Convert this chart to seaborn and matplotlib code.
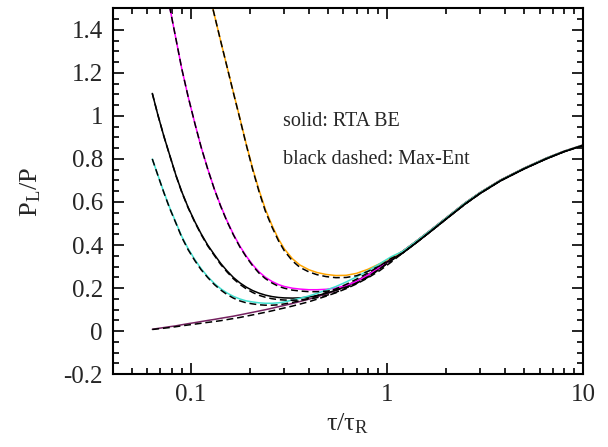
"""P_L/P versus tau/tau_R: RTA BE solutions against Max-Ent closures."""

import matplotlib

matplotlib.use("Agg")

import matplotlib.pyplot as plt
import seaborn as sns
from matplotlib.ticker import FuncFormatter, LogLocator, MultipleLocator


# values
TAU = [0.0637, 0.068, 0.073, 0.078, 0.084, 0.09, 0.097, 0.105, 0.113, 0.122,
       0.132, 0.142, 0.153, 0.165, 0.178, 0.192, 0.207, 0.223, 0.24, 0.26,
       0.28, 0.30, 0.33, 0.36, 0.40, 0.44, 0.49, 0.55, 0.62, 0.70,
       0.80, 0.92, 1.05, 1.2, 1.4, 1.65, 2.0, 2.5, 3.0, 3.8,
       5.0, 6.5, 8.0, 10.0]

# all runs sit on one curve above tau/tau_R ~ 1.2
PL_TAIL_RTA = [0.37, 0.415, 0.465, 0.525, 0.595, 0.645, 0.702, 0.757, 0.804, 0.836, 0.865]
PL_TAIL_ME = [0.362, 0.408, 0.459, 0.52, 0.59, 0.641, 0.699, 0.754, 0.801, 0.834, 0.863]

# orange starts at TAU[9], magenta at TAU[3] (earlier values are off the top)
PL_ORANGE_RTA = [1.60, 1.47, 1.35, 1.23, 1.11, 0.99, 0.868, 0.755, 0.655, 0.567,
                 0.49, 0.428, 0.382, 0.336, 0.307, 0.285, 0.272, 0.263, 0.258, 0.259,
                 0.268, 0.287, 0.313, 0.34]
PL_ORANGE_ME = [1.60, 1.47, 1.35, 1.23, 1.108, 0.988, 0.865, 0.75, 0.648, 0.558,
                0.482, 0.42, 0.373, 0.326, 0.296, 0.275, 0.262, 0.253, 0.248, 0.249,
                0.257, 0.277, 0.303, 0.332]

PL_MAGENTA_RTA = [1.51, 1.36, 1.22, 1.09, 0.965, 0.855, 0.755, 0.66, 0.583, 0.513,
                  0.45, 0.395, 0.348, 0.308, 0.275, 0.25, 0.23, 0.216, 0.207, 0.199,
                  0.195, 0.192, 0.192, 0.194, 0.2, 0.212, 0.231, 0.26, 0.298, 0.335]
PL_MAGENTA_ME = [1.51, 1.36, 1.22, 1.09, 0.965, 0.855, 0.754, 0.659, 0.581, 0.51,
                 0.447, 0.391, 0.344, 0.303, 0.269, 0.244, 0.223, 0.208, 0.199, 0.19,
                 0.186, 0.183, 0.183, 0.185, 0.191, 0.203, 0.222, 0.25, 0.288, 0.328]

PL_BLACK_RTA = [1.105, 1.005, 0.905, 0.82, 0.725, 0.648, 0.575, 0.508, 0.452, 0.4,
                0.355, 0.315, 0.28, 0.249, 0.224, 0.204, 0.188, 0.176, 0.167, 0.16,
                0.156, 0.154, 0.153, 0.154, 0.158, 0.165, 0.175, 0.19, 0.21, 0.233,
                0.262, 0.298, 0.335]
PL_BLACK_ME = [1.105, 1.005, 0.905, 0.819, 0.724, 0.646, 0.573, 0.505, 0.449, 0.396,
               0.351, 0.31, 0.275, 0.243, 0.217, 0.196, 0.179, 0.166, 0.157, 0.15,
               0.146, 0.144, 0.143, 0.144, 0.148, 0.155, 0.165, 0.18, 0.2, 0.223,
               0.252, 0.289, 0.327]

PL_CYAN_RTA = [0.80, 0.725, 0.645, 0.575, 0.505, 0.44, 0.383, 0.332, 0.29, 0.253,
               0.221, 0.197, 0.177, 0.161, 0.149, 0.14, 0.135, 0.131, 0.129, 0.129,
               0.131, 0.135, 0.144, 0.152, 0.163, 0.175, 0.19, 0.207, 0.228, 0.252,
               0.28, 0.313, 0.345]
PL_CYAN_ME = [0.80, 0.724, 0.643, 0.572, 0.502, 0.436, 0.378, 0.327, 0.285, 0.249,
              0.216, 0.191, 0.17, 0.153, 0.14, 0.131, 0.126, 0.122, 0.12, 0.12,
              0.122, 0.126, 0.133, 0.141, 0.152, 0.164, 0.179, 0.196, 0.217, 0.241,
              0.27, 0.303, 0.337]

PL_BOTTOM_RTA = [0.008, 0.012, 0.016, 0.02, 0.024, 0.029, 0.034, 0.039, 0.044, 0.049,
                 0.054, 0.059, 0.064, 0.069, 0.075, 0.081, 0.087, 0.093, 0.099, 0.106,
                 0.113, 0.119, 0.128, 0.137, 0.148, 0.159, 0.172, 0.188, 0.207, 0.229,
                 0.256, 0.29, 0.332]
PL_BOTTOM_ME = [0.007, 0.01, 0.013, 0.016, 0.02, 0.024, 0.028, 0.032, 0.036, 0.04,
                0.044, 0.048, 0.053, 0.058, 0.063, 0.069, 0.075, 0.081, 0.087, 0.094,
                0.101, 0.107, 0.116, 0.125, 0.136, 0.148, 0.162, 0.178, 0.197, 0.219,
                0.247, 0.281, 0.32]

# (colour, first TAU index, RTA values, Max-Ent values); cyan drawn last, on top
CURVES = [
    ("#74205f", 0, PL_BOTTOM_RTA, PL_BOTTOM_ME),
    ("black", 0, PL_BLACK_RTA, PL_BLACK_ME),
    ("#ff00ff", 3, PL_MAGENTA_RTA, PL_MAGENTA_ME),
    ("orange", 9, PL_ORANGE_RTA, PL_ORANGE_ME),
    ("#40e0d0", 0, PL_CYAN_RTA, PL_CYAN_ME),
]


def main() -> None:
    sns.set_style("ticks")
    plt.rcParams["font.family"] = ["Liberation Serif", "DejaVu Serif"]
    plt.rcParams["mathtext.fontset"] = "stix"

    fig = plt.figure(figsize=(6.08, 4.47), dpi=100)
    ax = fig.add_axes([0.1853, 0.1633, 0.7737, 0.8177])

    for color, start, rta, _ in CURVES:
        sns.lineplot(x=TAU[start:], y=rta + PL_TAIL_RTA, ax=ax, color=color,
                     linewidth=1.1, sort=False, estimator=None)
    for _, start, _, me in CURVES:
        sns.lineplot(x=TAU[start:], y=me + PL_TAIL_ME, ax=ax, color="black",
                     linewidth=1.1, sort=False, estimator=None)
        ax.lines[-1].set_dashes((4.5, 2.5))

    ax.set_xscale("log")
    ax.set_xlim(0.04, 10)
    ax.set_ylim(-0.2, 1.5)

    ax.xaxis.set_major_locator(LogLocator(base=10))
    ax.xaxis.set_minor_locator(LogLocator(base=10, subs=range(2, 10)))
    ax.xaxis.set_major_formatter(FuncFormatter(lambda v, _: f"{v:g}"))
    ax.xaxis.set_minor_formatter(FuncFormatter(lambda v, _: ""))
    ax.yaxis.set_major_locator(MultipleLocator(0.2))
    ax.yaxis.set_minor_locator(MultipleLocator(0.05))
    ax.yaxis.set_major_formatter(FuncFormatter(lambda v, _: f"{round(v, 2):g}"))

    ax.tick_params(which="both", direction="in", top=True, right=True, width=1.2,
                   labelsize=18, color="black")
    ax.tick_params(which="major", length=8, pad=7)
    ax.tick_params(which="minor", length=4)
    for spine in ax.spines.values():
        spine.set_linewidth(1.5)
        spine.set_color("black")

    ax.set_xlabel(r"τ/τ$_\mathregular{R}$", fontsize=19, labelpad=4)
    ax.set_ylabel(r"P$_\mathregular{L}$/P", fontsize=19, labelpad=15)

    ax.text(0.297, 0.955, "solid: RTA BE", fontsize=14.5)
    ax.text(0.297, 0.775, "black dashed: Max-Ent", fontsize=14.5)

    fig.savefig("out.png", dpi=100)
    plt.close(fig)


if __name__ == "__main__":
    main()
